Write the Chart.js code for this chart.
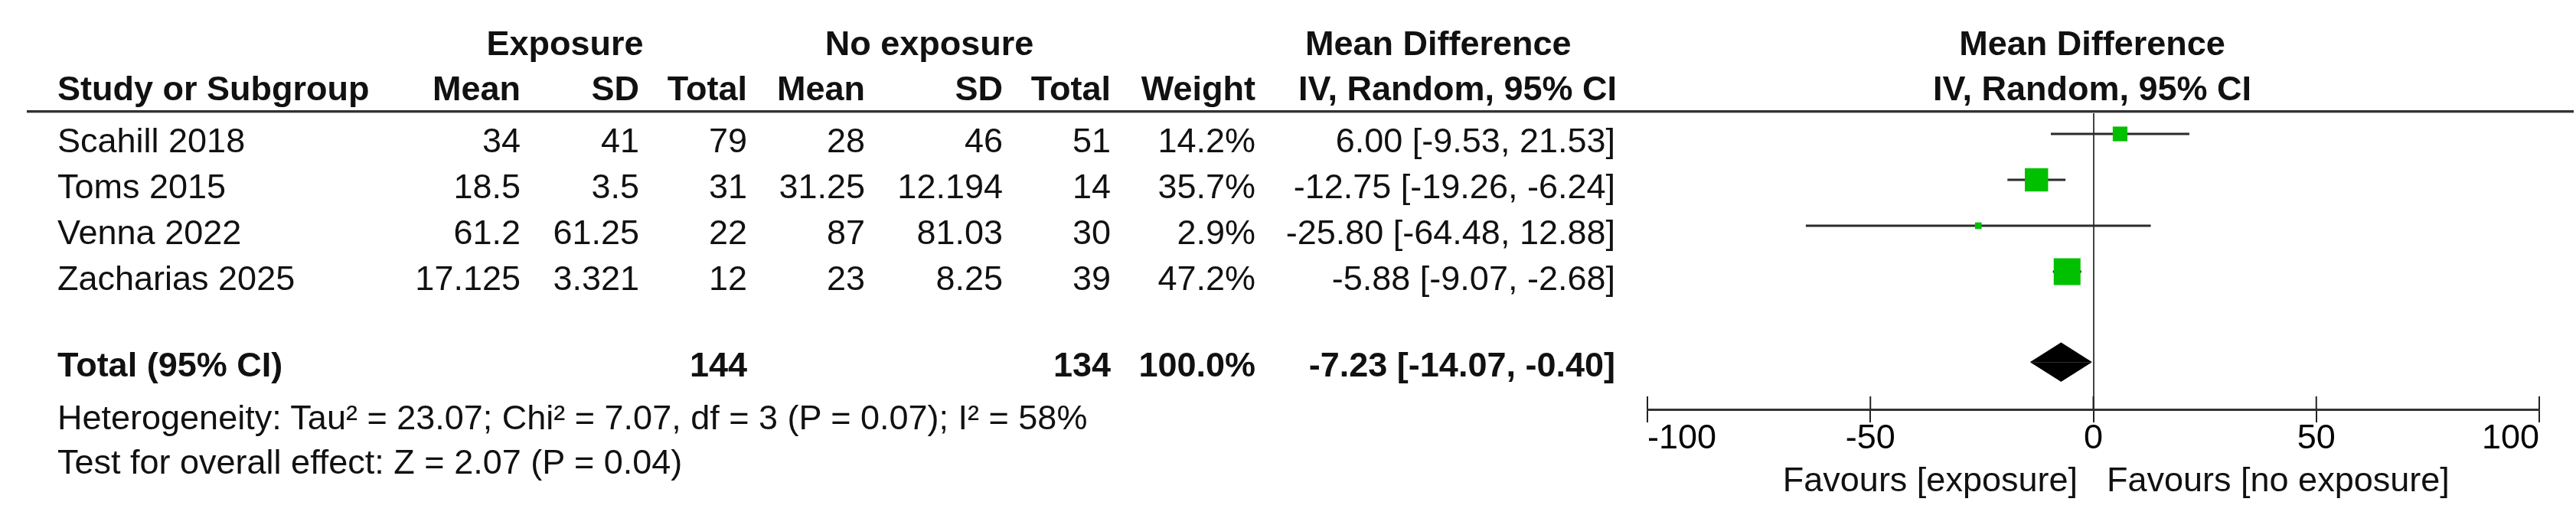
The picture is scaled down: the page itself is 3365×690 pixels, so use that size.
<!DOCTYPE html>
<html>
<head>
<meta charset="utf-8">
<title>Forest plot</title>
<script src="https://cdn.jsdelivr.net/npm/chart.js@4.4.1/dist/chart.umd.min.js"></script>
<style>
  body { margin: 0; width: 3365px; height: 690px; overflow: hidden; background: #fff; position: relative;
         font-family: "Liberation Sans", Arial, sans-serif; color: #111; }
  #forest { position: absolute; left: 0; top: 0; }
  .t { position: absolute; white-space: nowrap; font-size: 45px; line-height: 45px; }
  .b { font-weight: bold; }
  .r { transform: translateX(-100%); }
  .c { transform: translateX(-50%); }
  #rule { position: absolute; left: 35px; width: 3327px; top: 144px; height: 3px; background: #333; border-bottom: 1px solid #b5b5b5; }
</style>
</head>
<body>
<canvas id="forest" width="3365" height="690"></canvas>
<div id="rule"></div>
<div id="txt"></div>
<script>
// study data
const studies = ['Scahill 2018', 'Toms 2015', 'Venna 2022', 'Zacharias 2025'];
const expMean = [34, 18.5, 61.2, 17.125];
const expSD = [41, 3.5, 61.25, 3.321];
const expN = [79, 31, 22, 12];
const noMean = [28, 31.25, 87, 23];
const noSD = [46, 12.194, 81.03, 8.25];
const noN = [51, 14, 30, 39];
const weight = [14.2, 35.7, 2.9, 47.2];
const md = [6.00, -12.75, -25.80, -5.88];
const ciLow = [-9.53, -19.26, -64.48, -9.07];
const ciHigh = [21.53, -6.24, 12.88, -2.68];

// pooled result
const pooledMD = -7.23;
const pooledLow = -14.07;
const pooledHigh = -0.40;
const heterogeneity = 'Heterogeneity: Tau² = 23.07; Chi² = 7.07, df = 3 (P = 0.07); I² = 58%';
const overallTest = 'Test for overall effect: Z = 2.07 (P = 0.04)';

const xTicks = [-100, -50, 0, 50, 100];
const favours = ['Favours [exposure]', 'Favours [no exposure]'];

// layout of the table (right edges of columns, baselines)
const colRight = [680, 835, 976, 1130, 1310, 1451, 1640, 2110];
const firstBase = 199, rowStep = 60;
const totalRow = 4.97;

function put(text, x, base, cls) {
    const d = document.createElement('div');
    d.className = 't ' + (cls || '');
    d.textContent = text;
    d.style.left = x + 'px';
    d.style.top = (base - 38) + 'px';
    document.getElementById('txt').appendChild(d);
}

function ciText(m, lo, hi) {
    return m.toFixed(2) + ' [' + lo.toFixed(2) + ', ' + hi.toFixed(2) + ']';
}

// headers
put('Exposure', 738, 72, 'b c');
put('No exposure', 1214, 72, 'b c');
put('Mean Difference', 1705, 72, 'b');
put('Mean Difference', 2733, 72, 'b c');
put('Study or Subgroup', 75, 131, 'b');
['Mean', 'SD', 'Total', 'Mean', 'SD', 'Total', 'Weight'].forEach((h, j) => put(h, colRight[j], 131, 'b r'));
put('IV, Random, 95% CI', 2112, 131, 'b r');
put('IV, Random, 95% CI', 2733, 131, 'b c');

// study rows
studies.forEach((s, i) => {
    const base = firstBase + i * rowStep;
    put(s, 75, base);
    const cells = [expMean[i], expSD[i], expN[i], noMean[i], noSD[i], noN[i], weight[i].toFixed(1) + '%',
                   ciText(md[i], ciLow[i], ciHigh[i])];
    cells.forEach((v, j) => put(String(v), colRight[j], base, 'r'));
});

// total row
const sumW = weight.reduce((a, b) => a + b, 0);
put('Total (95% CI)', 75, 492, 'b');
put(String(expN.reduce((a, b) => a + b, 0)), colRight[2], 492, 'b r');
put(String(noN.reduce((a, b) => a + b, 0)), colRight[5], 492, 'b r');
put(sumW.toFixed(1) + '%', colRight[6], 492, 'b r');
put(ciText(pooledMD, pooledLow, pooledHigh), colRight[7], 492, 'b r');
put(heterogeneity, 75, 561);
put(overallTest, 75, 619);
put(favours[0], 2714, 642, 'r');
put(favours[1], 2752, 642);

// square side from weight
const maxW = Math.max(...weight);
const side = w => 35 * Math.sqrt(w / maxW);

// upper halves of the axis ticks
const tickTops = {
    id: 'tickTops',
    afterDraw(chart) {
        const sx = chart.scales.x;
        const ctx = chart.ctx;
        ctx.save();
        ctx.strokeStyle = '#222';
        ctx.lineWidth = 2;
        sx.ticks.forEach((t, i) => {
            const px = sx.getPixelForTick(i);
            ctx.beginPath();
            ctx.moveTo(px, sx.top - 17);
            ctx.lineTo(px, sx.top);
            ctx.stroke();
        });
        ctx.restore();
    }
};

const datasets = [{
    type: 'scatter',
    data: md.map((v, i) => ({x: v, y: i})),
    pointStyle: 'rect',
    pointRadius: weight.map(w => side(w) / Math.SQRT2),
    backgroundColor: '#00c000',
    borderWidth: 0,
    order: 0
}];
studies.forEach((s, i) => {
    datasets.push({
        type: 'line',
        data: [{x: ciLow[i], y: i}, {x: ciHigh[i], y: i}],
        borderColor: '#2b2b2b',
        borderWidth: 3,
        pointRadius: 0,
        fill: false,
        order: 1
    });
});
// diamond in two halves
[-0.42, 0.42].forEach(h => {
    datasets.push({
        type: 'line',
        data: [{x: pooledLow, y: totalRow}, {x: pooledMD, y: totalRow + h}, {x: pooledHigh, y: totalRow}],
        fill: {value: totalRow},
        backgroundColor: '#000',
        borderColor: '#000',
        borderWidth: 1,
        pointRadius: 0,
        tension: 0,
        order: 2
    });
});

new Chart(document.getElementById('forest'), {
    type: 'scatter',
    data: {datasets: datasets},
    options: {
        responsive: false,
        animation: false,
        devicePixelRatio: 1,
        events: [],
        layout: {padding: {left: 2152, right: 48, top: 145, bottom: 80}},
        plugins: {legend: {display: false}, tooltip: {enabled: false}},
        scales: {
            x: {
                type: 'linear',
                min: -100,
                max: 100,
                afterBuildTicks: s => { s.ticks = xTicks.map(v => ({value: v})); },
                afterFit: s => { s.height = 75; },
                border: {display: true, color: '#333', width: 3},
                grid: {
                    drawOnChartArea: true,
                    color: c => (c.tick && c.tick.value === 0) ? '#444' : 'rgba(0,0,0,0)',
                    lineWidth: 2,
                    drawTicks: true,
                    tickLength: 17,
                    tickColor: '#222',
                    tickWidth: 2
                },
                ticks: {
                    align: 'inner',
                    padding: -5,
                    maxRotation: 0,
                    autoSkip: false,
                    color: '#000',
                    font: {family: 'Liberation Sans', size: 45}
                }
            },
            y: {
                type: 'linear',
                reverse: true,
                min: -0.5,
                max: 6,
                display: false
            }
        }
    },
    plugins: [tickTops]
});
</script>
</body>
</html>
